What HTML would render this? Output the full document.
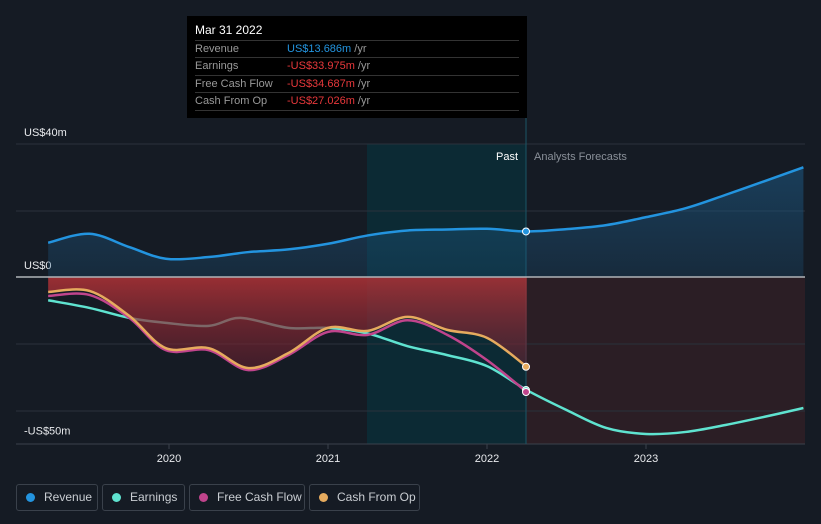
<!DOCTYPE html>
<html><head><meta charset="utf-8"><style>
body{margin:0;background:#151b24;width:821px;height:524px;overflow:hidden;font-family:"Liberation Sans",sans-serif;}
svg{position:absolute;left:0;top:0}
.leg{position:absolute;top:484px;height:27px;border:1px solid #3a414b;border-radius:3px;box-sizing:border-box;color:#c9cdd2;font-size:12px;line-height:25px;padding-left:27px;white-space:nowrap}
.leg i{position:absolute;left:9px;top:8px;width:9px;height:9px;border-radius:50%}
#tip{position:absolute;left:187px;top:16px;width:340px;height:102px;background:#000;}
#tip .h{position:absolute;left:8px;top:7px;color:#fff;font-size:12px}
#tip .r{position:absolute;left:8px;width:324px;border-top:1px solid #333;height:17px;font-size:11px;line-height:17px;color:#999}
#tip .r b{font-weight:normal;position:absolute;left:92px}
</style></head><body>
<svg id="c" width="821" height="524"></svg>
<div id="tip">
<div class="h">Mar 31 2022</div>
<div class="r" style="top:24px">Revenue<b><span style="color:#2394df">US$13.686m</span> /yr</b></div>
<div class="r" style="top:41px">Earnings<b><span style="color:#e8383b">-US$33.975m</span> /yr</b></div>
<div class="r" style="top:59px">Free Cash Flow<b><span style="color:#e8383b">-US$34.687m</span> /yr</b></div>
<div class="r" style="top:76px">Cash From Op<b><span style="color:#e8383b">-US$27.026m</span> /yr</b><div style="position:absolute;left:0;top:17px;width:324px;border-top:1px solid #333"></div></div>
</div>
<div class="leg" style="left:16px;width:82px"><i style="background:#2394df"></i>Revenue</div>
<div class="leg" style="left:102px;width:83px"><i style="background:#5fe3d0"></i>Earnings</div>
<div class="leg" style="left:189px;width:116px"><i style="background:#c0448c"></i>Free Cash Flow</div>
<div class="leg" style="left:309px;width:111px"><i style="background:#e6ab5e"></i>Cash From Op</div>
<script>
const revX=[2019.24,2019.5,2019.75,2019.98,2020.25,2020.5,2020.75,2021.0,2021.25,2021.5,2021.75,2022.0,2022.25,2022.5,2022.75,2023.0,2023.25,2023.5,2023.75,2023.99];
const revY=[10.3,13,9,5.5,6,7.5,8.3,10,12.5,14,14.3,14.5,13.7,14.4,15.6,18,20.7,24.7,28.9,33];
const earnX=[2019.24,2019.5,2019.75,2019.98,2020.25,2020.45,2020.75,2021.0,2021.25,2021.5,2021.75,2022.0,2022.25,2022.5,2022.75,2023.0,2023.25,2023.5,2023.75,2023.99];
const earnY=[-7,-9.3,-12.3,-13.8,-14.7,-12.3,-15.3,-15.3,-17,-20.8,-23.5,-26.8,-34,-40,-45.4,-47.2,-46.6,-44.5,-42,-39.4];
const cfX=[2019.24,2019.5,2019.75,2019.98,2020.25,2020.5,2020.75,2021.0,2021.25,2021.5,2021.75,2022.0,2022.25];
const fcfY=[-5.7,-5.4,-12.3,-22,-22,-28,-23.5,-16.5,-17.4,-13,-17.4,-25,-34.6];
const cfoY=[-4.5,-4.2,-11.7,-21.4,-21.4,-27.4,-22.9,-15.3,-16.2,-12,-15.9,-18.3,-27];
const yTicks=[40,0,-50];const yTickLabels=["US$40m","US$0","-US$50m"];
const xTicks=[2020,2021,2022,2023];
const X=t=>169+(t-2020)*159, Y=v=>277-v*3.325;
const svg=document.getElementById('c');const NS='http://www.w3.org/2000/svg';
function el(tag,a,p){const e=document.createElementNS(NS,tag);for(const k in a)e.setAttribute(k,a[k]);(p||svg).appendChild(e);return e;}
function path(xs,ys){const p=xs.map((x,i)=>[X(x),Y(ys[i])]);let d='M'+p[0];for(let i=0;i<p.length-1;i++){const p0=p[i-1]||p[i],p1=p[i],p2=p[i+1],p3=p[i+2]||p2;const c1=[p1[0]+(p2[0]-p0[0])/6,p1[1]+(p2[1]-p0[1])/6],c2=[p2[0]-(p3[0]-p1[0])/6,p2[1]-(p3[1]-p1[1])/6];d+='C'+c1+' '+c2+' '+p2;}return d;}
const defs=el('defs',{});
defs.innerHTML='<linearGradient id="gb" x1="0" y1="0" x2="0" y2="1"><stop offset="0" stop-color="#1d5a86" stop-opacity=".55"/><stop offset="1" stop-color="#1d5a86" stop-opacity=".25"/></linearGradient><linearGradient id="gr" x1="0" y1="0" x2="0" y2="1"><stop offset="0" stop-color="#b03236" stop-opacity=".85"/><stop offset="1" stop-color="#6a2030" stop-opacity=".5"/></linearGradient>';
el('rect',{x:367,y:144,width:159,height:300,fill:'#0a2e38',opacity:.8,});
el('rect',{x:526,y:277,width:279,height:167,fill:'#2b1e25',});
[144,211,344,411].forEach(v=>el('line',{x1:16,x2:805,y1:v,y2:v,stroke:'#2a313b','stroke-width':1}));
el('line',{x1:16,x2:805,y1:444,y2:444,stroke:'#3a414b'});
xTicks.forEach(t=>{el('line',{x1:X(t),x2:X(t),y1:444,y2:449,stroke:'#3a414b'});const tx=el('text',{x:X(t),y:462,fill:'#e8eaed','font-size':11,'text-anchor':'middle'});tx.textContent=t;

});
yTicks.forEach((v,i)=>{const tx=el('text',{x:24,y:Y(v)-8+(v<0?-1:0),fill:'#e8eaed','font-size':11});tx.textContent=yTickLabels[i];

});
el('line',{x1:526,x2:526,y1:16,y2:444,stroke:'#1a5566','stroke-width':1});
const r=path(revX,revY);
el('path',{d:r+`L${X(revX[revX.length-1])},277L${X(revX[0])},277Z`,fill:'url(#gb)'});
el('path',{d:path(earnX,earnY),fill:'none',stroke:'#5fe3d0','stroke-width':2.5,});
el('path',{d:path(cfX,cfoY)+`L${X(cfX[cfX.length-1])},277L${X(cfX[0])},277Z`,fill:'url(#gr)',});
el('line',{x1:16,x2:805,y1:277,y2:277,stroke:'#b0b4b8','stroke-width':1.5});
el('path',{d:r,fill:'none',stroke:'#2394df','stroke-width':2.5,});
el('path',{d:path(cfX,fcfY),fill:'none',stroke:'#c0448c','stroke-width':2.5,});
el('path',{d:path(cfX,cfoY),fill:'none',stroke:'#e6ab5e','stroke-width':2.5,});
[[revY[12],'#2394df'],[earnY[12],'#5fe3d0'],[fcfY[12],'#c0448c'],[cfoY[12],'#e6ab5e']].forEach(([v,c])=>el('circle',{cx:526,cy:Y(v),r:3.5,fill:c,stroke:'#fff','stroke-width':1}));
let t=el('text',{x:518,y:160,fill:'#fff','font-size':11,'text-anchor':'end'});t.textContent='Past';
t=el('text',{x:534,y:160,fill:'#8a9099','font-size':11});t.textContent='Analysts Forecasts';
</script>
</body></html>
